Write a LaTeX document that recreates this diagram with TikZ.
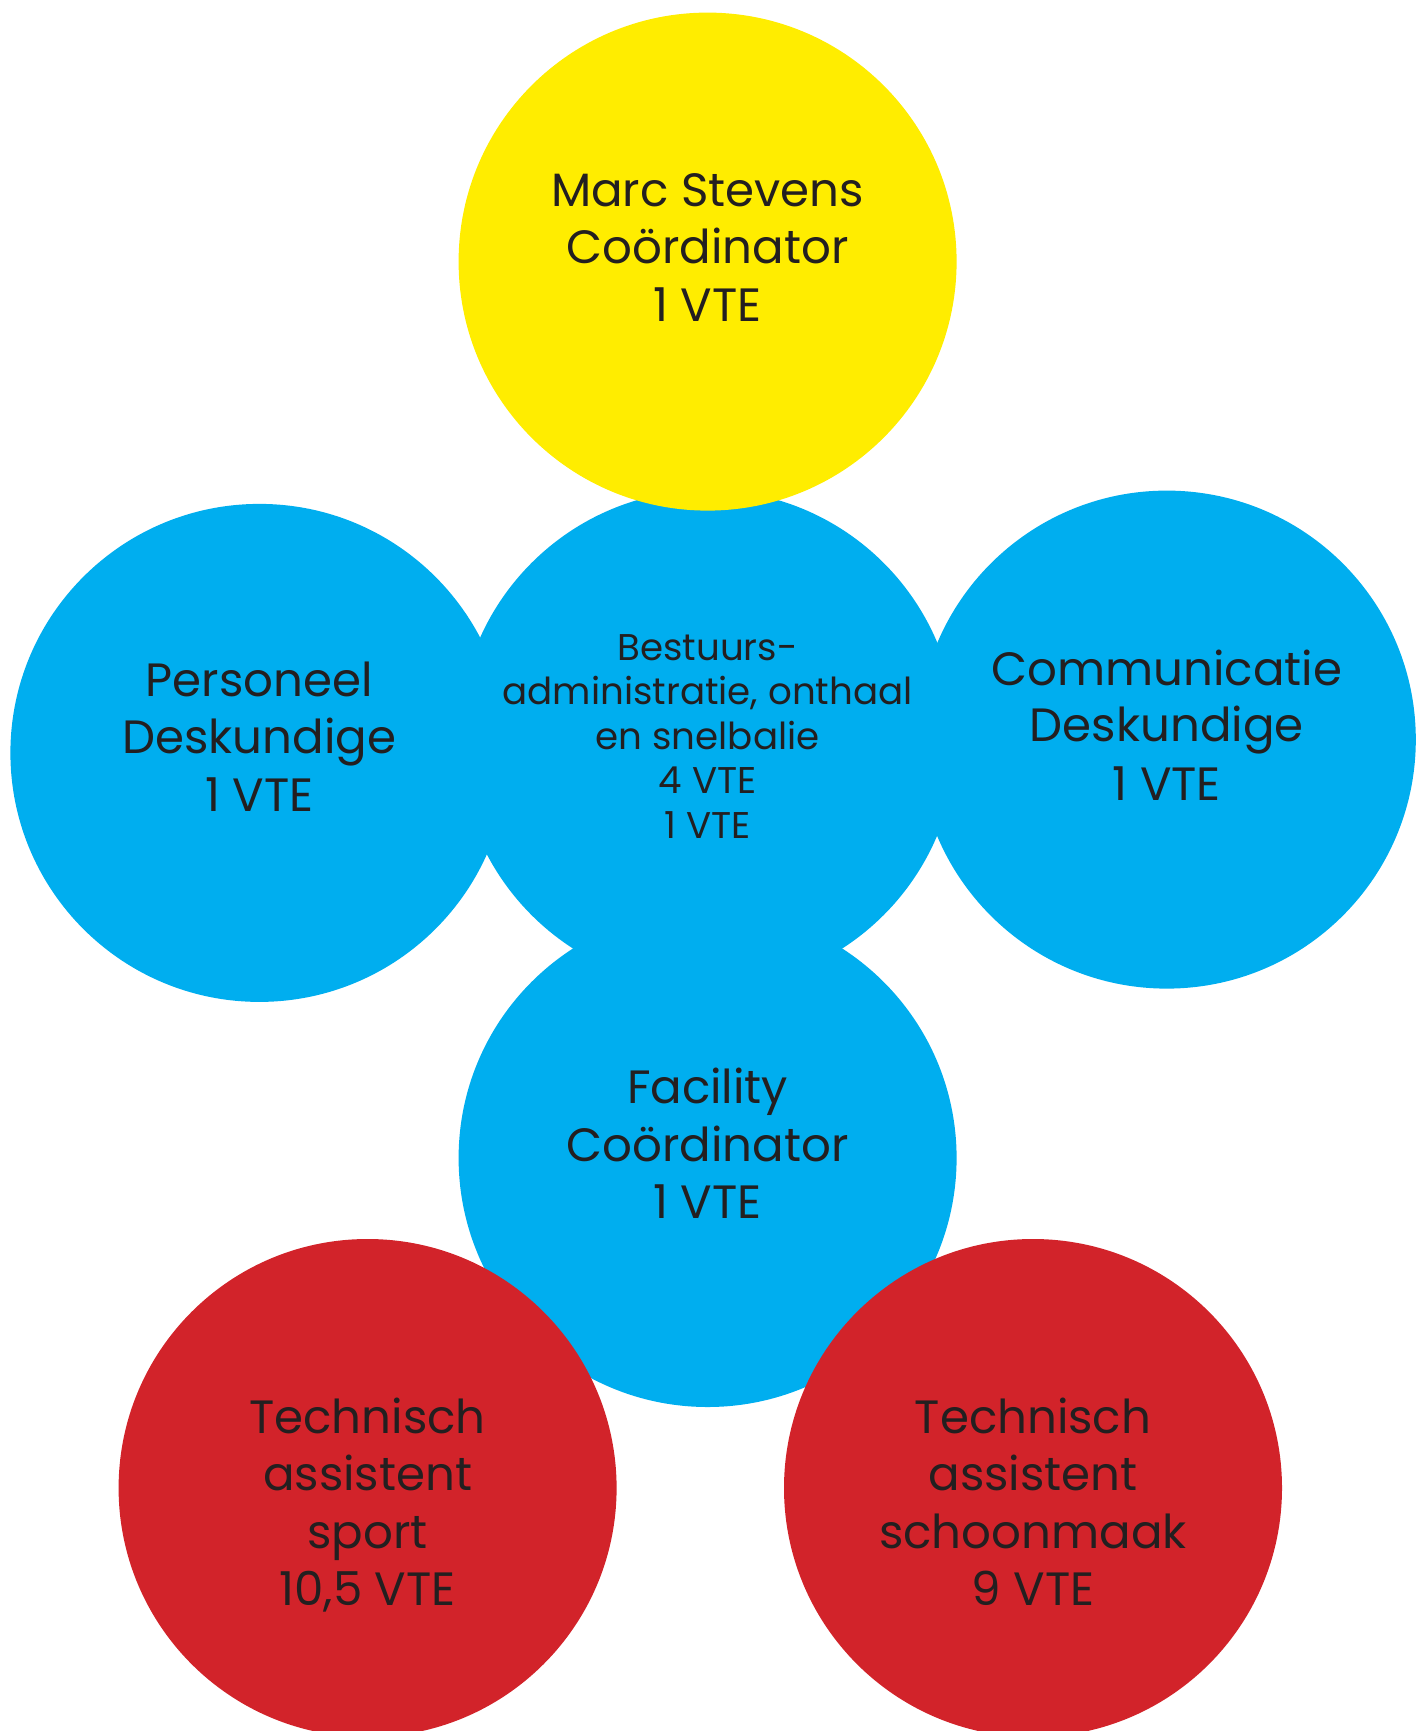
\documentclass[tikz,border=0pt]{standalone}
\usepackage{fontspec}
\setmainfont{Poppins}
\definecolor{cyanb}{HTML}{00AEEF}
\definecolor{yel}{HTML}{FFED00}
\definecolor{redb}{HTML}{D2232A}
\definecolor{txt}{HTML}{231F20}
\tikzset{
  bubble/.style={circle, minimum size=498pt, inner sep=0pt, draw=none},
  big/.style={font=\fontsize{46.7}{57.5}\selectfont, text=txt, anchor=base, inner sep=0pt},
  small/.style={font=\fontsize{37.2}{44.6}\selectfont, text=txt, anchor=base, inner sep=0pt}
}
\begin{document}
\begin{tikzpicture}[x=1pt,y=-1pt]
\useasboundingbox (0,0) rectangle (1424,1731);
\clip (0,0) rectangle (1424,1731);
% circles
\node[bubble, fill=cyanb] (pers) at (259.4,752.9) {};
\node[bubble, fill=cyanb] (comm) at (1166.8,739.6) {};
\node[bubble, fill=cyanb] (best) at (707.6,739) {};
\node[bubble, fill=cyanb] (fac) at (707.6,1158) {};
\node[bubble, fill=yel] (marc) at (707.6,261.6) {};
\node[bubble, fill=redb] (sport) at (367.6,1488) {};
\node[bubble, fill=redb] (schoon) at (1033,1488) {};
% texts
\node[big] (m1) at (707.6,206.7) {Marc Stevens};
\node[big] (m2) at (707.6,263.3) {Coördinator};
\node[big] (m3) at (707.6,321.7) {1 VTE};
\node[big] (p1) at (259.4,696.7) {Personeel};
\node[big] (p2) at (259.4,753.3) {Deskundige};
\node[big] (p3) at (259.4,811.7) {1 VTE};
\node[big] (c1) at (1166.8,685) {Communicatie};
\node[big] (c2) at (1166.8,741.7) {Deskundige};
\node[big] (c3) at (1166.8,800) {1 VTE};
\node[small] (b1) at (707.6,660) {Bestuurs-};
\node[small] (b2) at (707.6,704.3) {administratie, onthaal};
\node[small] (b3) at (707.6,749) {en snelbalie};
\node[small] (b4) at (707.6,793.6) {4 VTE};
\node[small] (b5) at (707.6,838.2) {1 VTE};
\node[big] (f1) at (707.6,1103.3) {Facility};
\node[big] (f2) at (707.6,1161.7) {Coördinator};
\node[big] (f3) at (707.6,1218.3) {1 VTE};
\node[big] (s1) at (367.6,1433) {Technisch};
\node[big] (s2) at (367.6,1490.5) {assistent};
\node[big] (s3) at (367.6,1548) {sport};
\node[big] (s4) at (367.6,1605) {10,5 VTE};
\node[big] (t1) at (1033,1433) {Technisch};
\node[big] (t2) at (1033,1490.5) {assistent};
\node[big] (t3) at (1033,1548) {schoonmaak};
\node[big] (t4) at (1033,1605) {9 VTE};
\end{tikzpicture}
\end{document}
